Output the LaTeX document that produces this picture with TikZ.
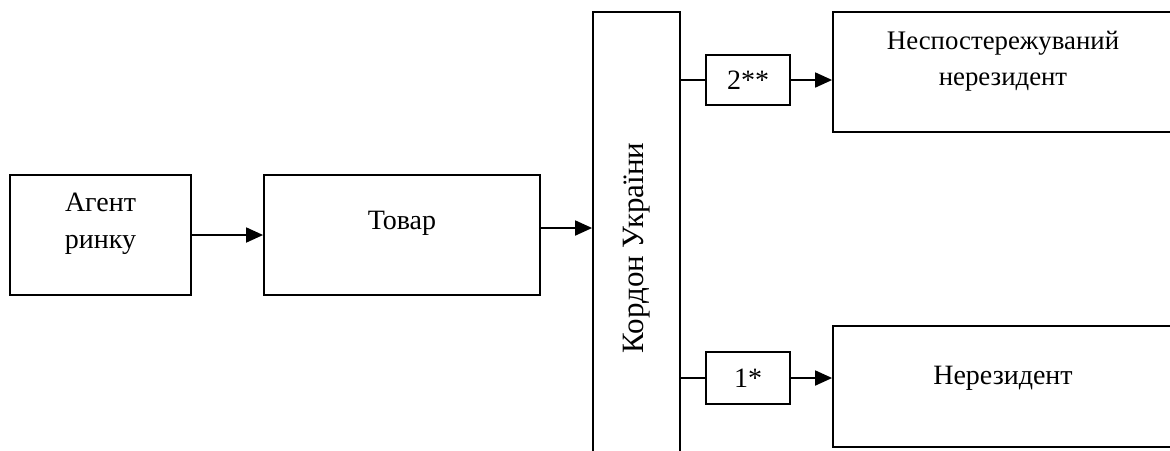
\documentclass[tikz,border=0pt]{standalone}
\usepackage{fontspec}
\setmainfont{Liberation Serif}
\usetikzlibrary{arrows.meta,positioning,calc}

\begin{document}
\begin{tikzpicture}[x=.5pt,y=-.5pt,>={Triangle[length=8.5pt,width=7.5pt]},
 box/.style={draw,line width=.9pt,inner sep=0pt},
 txt/.style={font=\fontsize{14}{18.5}\selectfont,align=center,inner sep=0pt},
 link/.style={line width=.9pt}]
 \clip (0,0) rectangle (1170,450);
 % left chain
 \node[box,minimum width=90.5pt,minimum height=60pt] (agent) at (100.5,235) {};
 \node[txt] (agentlbl) at ($(agent.center)+(0,-11)$) {Агент\\ринку};
 \node[box,minimum width=138pt,minimum height=60pt] (tovar) at (402,235) {};
 \node[txt] (tovarlbl) at ($(tovar.center)+(0,-12)$) {Товар};
 % border, open at the bottom
 \node[box,minimum width=43.5pt,minimum height=236pt] (kordon) at (636.5,248) {};
 \node[txt,font=\fontsize{15.5}{18.5}\selectfont,rotate=90] (kordonlbl) at (kordon.center) {Кордон України};
 % right side
 \node[box,minimum width=170pt,minimum height=60pt] (nonobs) at (1003,72) {};
 \node[txt,font=\fontsize{13.4}{18}\selectfont] (nonobslbl) at ($(nonobs.center)+(0,-10.5)$) {Неспостережуваний\\нерезидент};
 \node[box,minimum width=170pt,minimum height=60.5pt] (nonres) at (1003,386.5) {};
 \node[txt] (nonreslbl) at ($(nonres.center)+(0,-8)$) {Нерезидент};
 \node[box,txt,minimum width=42pt,minimum height=25pt] (s2) at (748,80) {2**};
 \node[box,txt,minimum width=42pt,minimum height=26pt] (s1) at (748,378) {1*};
 % connectors
 \draw[link,->] (agent.east) -- (tovar.west);
 \coordinate (tv) at ($(tovar.east)+(0,-7)$);
 \draw[link,->] (tv) -- (tv -| kordon.west);
 \foreach \s/\t in {s2/nonobs,s1/nonres}{
  \draw[link] (kordon.east |- \s.west) -- (\s.west);
  \draw[link,->] (\s.east) -- (\s.east -| \t.west);}
\end{tikzpicture}
\end{document}
